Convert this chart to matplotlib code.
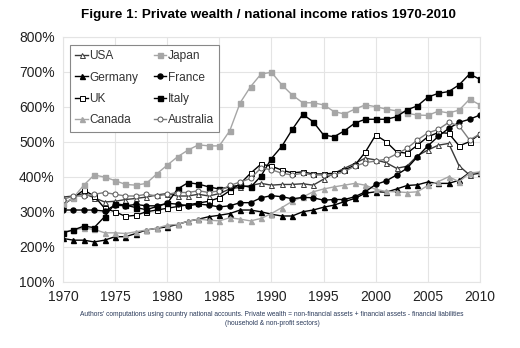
import numpy as np
import matplotlib.pyplot as plt
from matplotlib.ticker import FuncFormatter, MultipleLocator

plt.rcParams['font.family'] = ['Liberation Sans', 'DejaVu Sans']

years = list(range(1970, 2011))

# private wealth / national income, in %
usa = [342, 345, 352, 340, 328, 330, 335, 338, 342, 348,
       352, 345, 345, 350, 345, 352, 365, 370, 375, 381,
       376, 378, 378, 380, 376, 393, 410, 424, 438, 453,
       448, 440, 424, 430, 460, 476, 490, 495, 431, 405, 410]
japan = [322, 340, 376, 405, 399, 389, 378, 376, 381, 408,
         433, 457, 476, 491, 488, 488, 531, 611, 657, 693,
         698, 662, 633, 611, 611, 605, 586, 579, 593, 605,
         600, 593, 588, 581, 576, 575, 587, 582, 590, 621, 605]
germany = [224, 219, 219, 214, 219, 229, 229, 238, 248, 253,
           257, 264, 273, 279, 286, 290, 295, 305, 305, 300,
           293, 288, 288, 300, 305, 313, 319, 329, 338, 353,
           357, 356, 365, 375, 377, 385, 381, 381, 390, 412, 411]
france = [305, 305, 305, 305, 302, 319, 317, 321, 317, 317,
          324, 322, 317, 322, 319, 314, 317, 326, 326, 340,
          346, 343, 337, 341, 340, 333, 335, 335, 343, 357,
          378, 388, 405, 424, 457, 488, 515, 538, 555, 564, 576]
uk = [320, 340, 362, 345, 310, 300, 287, 290, 300, 305,
      310, 315, 320, 325, 330, 340, 360, 380, 410, 436,
      430, 419, 411, 414, 408, 408, 410, 419, 433, 470,
      519, 500, 471, 467, 490, 514, 526, 524, 488, 500, 522]
italy = [240, 248, 259, 255, 286, 323, 319, 312, 306, 315,
         324, 365, 383, 379, 371, 365, 371, 376, 370, 402,
         452, 487, 535, 578, 557, 519, 514, 531, 553, 564,
         564, 564, 571, 591, 602, 627, 638, 643, 662, 693, 678]
canada = [243, 248, 253, 250, 240, 240, 238, 243, 248, 253,
          262, 264, 273, 279, 276, 274, 283, 279, 274, 281,
          295, 312, 330, 342, 357, 365, 371, 376, 381, 376,
          364, 358, 357, 355, 357, 375, 386, 400, 386, 410, 414]
australia = [335, 345, 345, 350, 355, 350, 345, 345, 350, 345,
             350, 355, 355, 360, 355, 360, 375, 385, 395, 425,
             420, 410, 405, 410, 405, 405, 405, 415, 430, 440,
             445, 450, 465, 481, 505, 525, 535, 555, 545, 505, 522]

fig = plt.figure(figsize=(5.2, 3.48), dpi=100)
ax = fig.add_axes([0.121, 0.19, 0.802, 0.705])

ms = 3.6
lw = 1.0
ax.plot(years, usa, color='#3a3a3a', lw=lw, marker='^', ms=ms, mfc='white', mec='#3a3a3a', mew=0.7, label='USA')
ax.plot(years, germany, color='black', lw=lw, marker='^', ms=ms, label='Germany')
ax.plot(years, uk, color='black', lw=lw, marker='s', ms=ms, mfc='white', mew=0.7, label='UK')
ax.plot(years, canada, color='#a6a6a6', lw=lw, marker='^', ms=ms, label='Canada')
ax.plot(years, japan, color='#a6a6a6', lw=lw, marker='s', ms=ms, label='Japan')
ax.plot(years, france, color='black', lw=lw, marker='o', ms=ms, label='France')
ax.plot(years, italy, color='black', lw=lw, marker='s', ms=ms, label='Italy')
ax.plot(years, australia, color='#7f7f7f', lw=lw, marker='o', ms=ms, mfc='white', mec='#555555', mew=0.7, label='Australia')

ax.set_xlim(1970, 2010)
ax.set_ylim(100, 800)
ax.xaxis.set_major_locator(MultipleLocator(5))
ax.yaxis.set_major_locator(MultipleLocator(100))
ax.yaxis.set_major_formatter(FuncFormatter(lambda v, p: '%d%%' % v))
ax.tick_params(length=0, labelsize=10, colors='#222222', pad=6)
ax.grid(color='#e4e4e4', lw=0.8)
for s in ax.spines.values():
    s.set_color('#e4e4e4')

leg = ax.legend(ncol=2, loc='upper left', bbox_to_anchor=(0.017, 0.966), borderaxespad=0,
                fontsize=8.6, handlelength=1.05, handletextpad=0.12, columnspacing=1.3,
                labelspacing=0.78, borderpad=0.45, fancybox=False, framealpha=1)
leg.get_frame().set_edgecolor('#888888')
leg.get_frame().set_linewidth(0.8)
for t in leg.get_texts():
    t.set_color('#333333')

fig.text(0.517, 0.957, 'Figure 1: Private wealth / national income ratios 1970-2010',
         ha='center', va='center', fontsize=9.7, fontweight='bold')
fig.text(0.523, 0.096, "Authors' computations using country national accounts. Private wealth = "
         "non-financial assets + financial assets - financial liabilities",
         ha='center', va='center', fontsize=4.8, color='#2a3a5a')
fig.text(0.523, 0.071, '(household & non-profit sectors)',
         ha='center', va='center', fontsize=4.8, color='#2a3a5a')

plt.savefig('out.png', dpi=100)
